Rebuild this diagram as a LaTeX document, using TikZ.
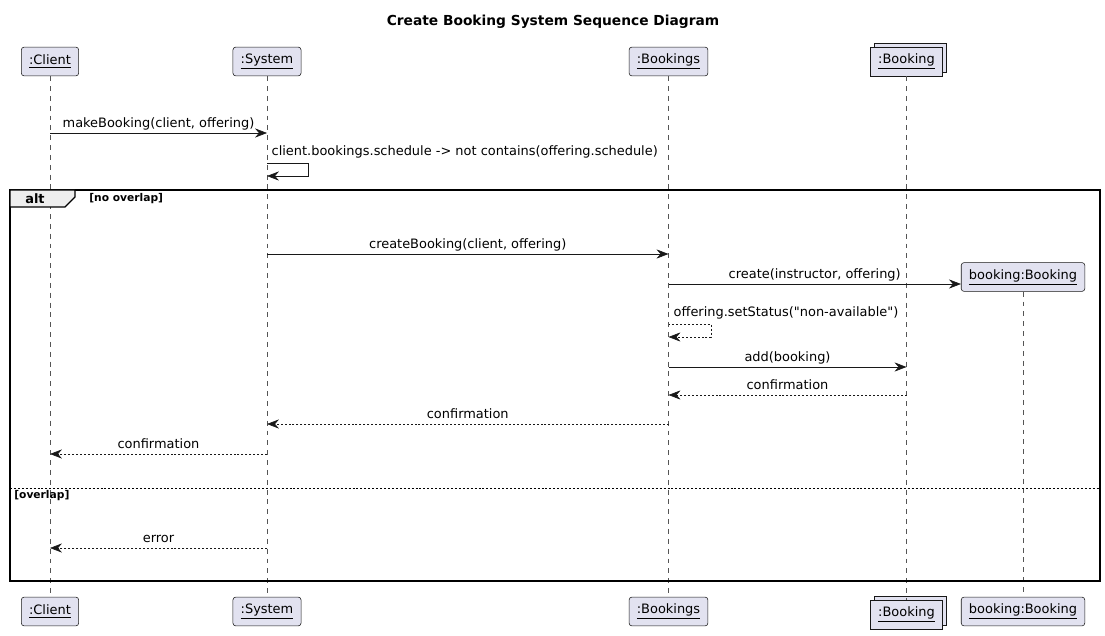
\documentclass[tikz,border=0pt]{standalone}
\usepackage{fontspec}
\setmainfont{DejaVu Sans}
\newfontfamily\rawfont{DejaVu Sans}
\usetikzlibrary{arrows.meta,shadows}

\definecolor{boxbg}{HTML}{E2E2F0}
\definecolor{boxline}{HTML}{181818}
\definecolor{lifegray}{HTML}{555555}
\definecolor{tabbg}{HTML}{EEEEEE}

\begin{document}
\begin{tikzpicture}[
    x=0.025cm, y=-0.025cm,
    actor/.style={draw=boxline, fill=boxbg, rounded corners=2pt, thin,
        minimum height=20.5pt, inner xsep=5.5pt, inner ysep=0pt,
        font=\fontsize{9.2}{11}\selectfont},
    collection/.style={actor, rounded corners=0pt,
        copy shadow={shadow xshift=2.8pt, shadow yshift=2.8pt,
            fill=boxbg, draw=boxline, opacity=1}},
    lifeline/.style={draw=lifegray, thin, dash pattern=on 3.5pt off 3.5pt},
    call/.style={draw=boxline, thin,
        -{Stealth[length=8.5pt, width=6.5pt, inset=2.8pt]}},
    reply/.style={call, dash pattern=on 1.4pt off 1.4pt},
    msg/.style={font=\rawfont\fontsize{9.2}{11}\selectfont, inner sep=1pt,
        text height=0.75em, text depth=0.25em},
    guard/.style={font=\bfseries\fontsize{7.6}{9}\selectfont, inner sep=0pt}
]
\useasboundingbox (0,0) rectangle (1105,636);

% title
\node[font=\bfseries\fontsize{9.8}{12}\selectfont] (title) at (553,22)
    {Create Booking System Sequence Diagram};

% participants, top row
\node[actor] (client)   at (50,61.5)  {\underline{:Client}};
\node[actor] (system)   at (267,61.5) {\underline{:System}};
\node[actor] (bookings) at (668.5,61.5) {\underline{:Bookings}};
\node[collection] (booking) at (906.5,61.5) {\underline{:Booking}};
\node[actor] (newbooking) at (1023,277) {\underline{booking:Booking}};

% participants, bottom row
\node[actor] (clientB)   at (50,611.5)  {\underline{:Client}};
\node[actor] (systemB)   at (267,611.5) {\underline{:System}};
\node[actor] (bookingsB) at (668.5,611.5) {\underline{:Bookings}};
\node[collection] (bookingB) at (906.5,614.5) {\underline{:Booking}};
\node[actor] (newbookingB) at (1023,611.5) {\underline{booking:Booking}};

% lifelines
\draw[lifeline] (client) -- (clientB);
\draw[lifeline] (system) -- (systemB);
\draw[lifeline] (bookings) -- (bookingsB);
\draw[lifeline] (booking) -- (bookingB);
\draw[lifeline] (newbooking) -- (newbookingB);

% alt frame
\draw[line width=1.4pt, draw=black] (10,190) rectangle (1100,581);
\draw[fill=tabbg, draw=black, line width=0.8pt]
    (10,190) -- (75,190) -- (75,197) -- (65,207) -- (10,207) -- cycle;
\node[guard, font=\bfseries\fontsize{9.2}{11}\selectfont] (alt) at (35,199) {alt};
\node[guard, anchor=west] (noov) at (89,199) {[no overlap]};
\draw[draw=black, thin, dash pattern=on 1.4pt off 1.4pt] (10,488) -- (1100,488);
\node[guard, anchor=north west] (ov) at (14,490) {[overlap]};

% messages
\draw[call] (client |- 0,133) -- (system |- 0,133)
    node[msg, midway, above] (m1) {makeBooking(client, offering)};
\draw[call] (system |- 0,163) -- (308,163) -- (308,176) -- (system |- 0,176);
\node[msg, anchor=south west] (m2) at (270,161)
    {client.bookings.schedule -> not contains(offering.schedule)};
\draw[call] (system |- 0,254) -- (bookings |- 0,254)
    node[msg, midway, above] (m3) {createBooking(client, offering)};
\draw[call] (bookings |- 0,284) -- (newbooking.west |- 0,284)
    node[msg, midway, above] (m4) {create(instructor, offering)};
\draw[reply] (bookings |- 0,324) -- (711,324) -- (711,337) -- (bookings |- 0,337);
\node[msg, anchor=south west] (m5) at (672,322)
    {offering.setStatus("non-available")};
\draw[call] (bookings |- 0,367) -- (booking |- 0,367)
    node[msg, midway, above] (m6) {add(booking)};
\draw[reply] (booking |- 0,395) -- (bookings |- 0,395)
    node[msg, midway, above] (m7) {confirmation};
\draw[reply] (bookings |- 0,424) -- (system |- 0,424)
    node[msg, midway, above] (m8) {confirmation};
\draw[reply] (system |- 0,454) -- (client |- 0,454)
    node[msg, midway, above] (m9) {confirmation};
\draw[reply] (system |- 0,548) -- (client |- 0,548)
    node[msg, midway, above] (m10) {error};

\end{tikzpicture}
\end{document}
